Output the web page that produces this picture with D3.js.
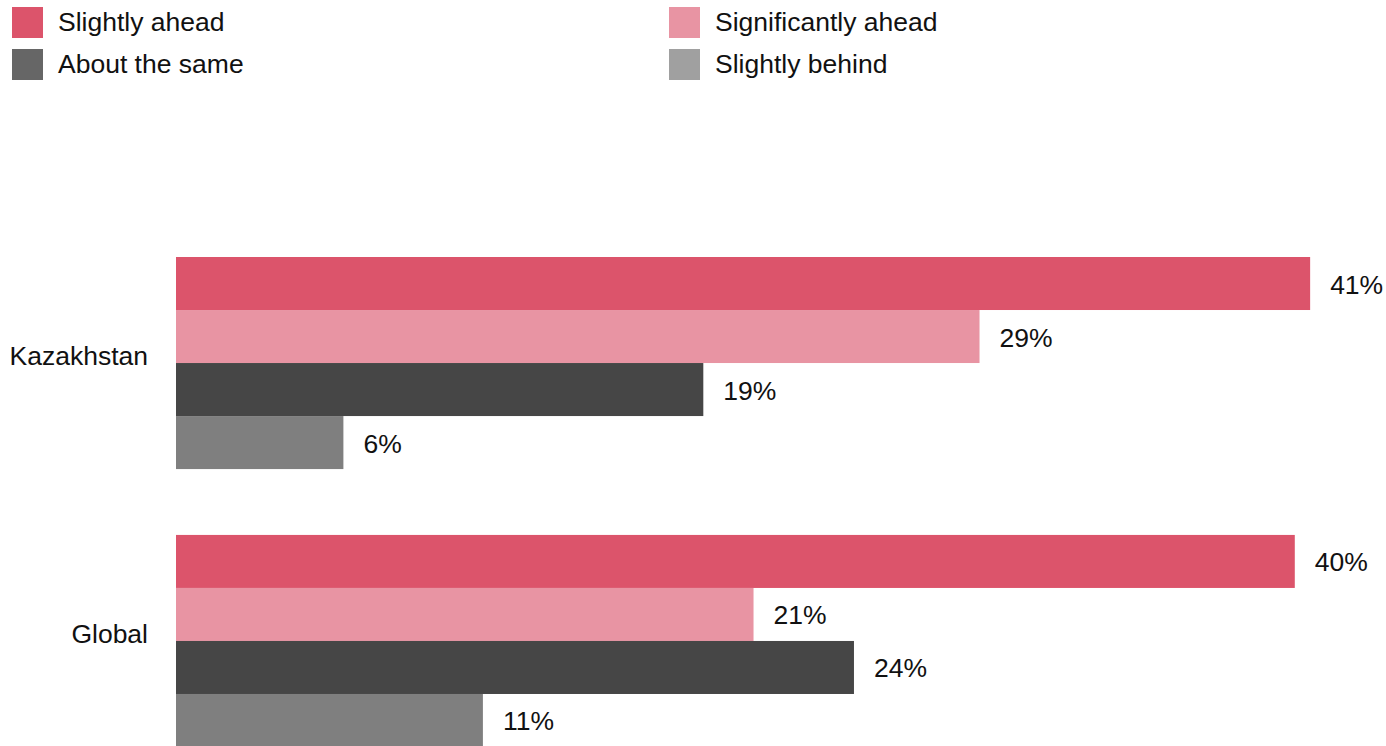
<!DOCTYPE html>
<html>
<head>
<meta charset="utf-8">
<script src="https://cdn.jsdelivr.net/npm/d3@7/dist/d3.min.js"></script>
<style>
  html, body { margin: 0; padding: 0; background: #fff; }
  svg { display: block; font-family: "Liberation Sans", Arial, sans-serif; }
</style>
</head>
<body>
<svg id="chart"></svg>
<script>
// ─── Data ───────────────────────────────────────────────────────────────────
const categories = ["Kazakhstan", "Global"];
const seriesNames = ["Slightly ahead", "Significantly ahead", "About the same", "Slightly behind"];
const kazakhstanValues = [40.65, 28.8, 18.9, 6.0];
const globalValues     = [40.1, 20.7, 24.3, 11.0];
const valueLabels = [["41%", "29%", "19%", "6%"], ["40%", "21%", "24%", "11%"]];

// legend layout order (two columns, two rows)
const legendOrder = ["Slightly ahead", "Significantly ahead", "About the same", "Slightly behind"];

const barColors    = ["#dc546b", "#e894a3", "#464646", "#7f7f7f"];
const legendColors = ["#dc546b", "#e894a3", "#666666", "#a0a0a0"];

const rows = [kazakhstanValues, globalValues];

// ─── SVG setup ──────────────────────────────────────────────────────────────
const W = 1386, H = 746;
const fontSize = "26.5px";
const svg = d3.select("#chart").attr("width", W).attr("height", H);

const x0 = 176;
const x = d3.scaleLinear().domain([0, 45]).range([x0, x0 + 45 * 27.9]);

const y = d3.scaleBand()
  .domain(categories)
  .range([257, 747])
  .paddingInner(0.237)
  .paddingOuter(0);

const ySub = d3.scaleBand()
  .domain(seriesNames)
  .range([0, y.bandwidth()])
  .padding(0);

const colorBar = d3.scaleOrdinal().domain(seriesNames).range(barColors);
const colorLegend = d3.scaleOrdinal().domain(seriesNames).range(legendColors);

// ─── Legend ─────────────────────────────────────────────────────────────────
const legend = svg.append("g").attr("class", "legend");
legendOrder.forEach((name, i) => {
  const col = i % 2, row = Math.floor(i / 2);
  const g = legend.append("g")
    .attr("transform", `translate(${col === 0 ? 12 : 669},${7 + row * 42})`);
  g.append("rect")
    .attr("width", 31)
    .attr("height", 31)
    .attr("fill", colorLegend(name));
  g.append("text")
    .attr("x", 46)
    .attr("y", 24)
    .attr("font-size", fontSize)
    .attr("fill", "#111")
    .text(name);
});

// ─── Bars ───────────────────────────────────────────────────────────────────
categories.forEach((cat, ci) => {
  const g = svg.append("g").attr("transform", `translate(0,${y(cat)})`);

  const data = seriesNames.map((s, si) => ({ series: s, value: rows[ci][si], label: valueLabels[ci][si] }));

  g.selectAll("rect")
    .data(data)
    .join("rect")
      .attr("x", x(0))
      .attr("y", d => ySub(d.series))
      .attr("width", d => x(d.value) - x(0))
      .attr("height", ySub.bandwidth())
      .attr("fill", d => colorBar(d.series));

  g.selectAll("text.value")
    .data(data)
    .join("text")
      .attr("class", "value")
      .attr("x", d => x(d.value) + 20)
      .attr("y", d => ySub(d.series) + ySub.bandwidth() / 2 + 10)
      .attr("font-size", fontSize)
      .attr("fill", "#111")
      .text(d => d.label);

  // category label
  svg.append("text")
    .attr("x", 148)
    .attr("y", y(cat) + y.bandwidth() / 2 + 2)
    .attr("text-anchor", "end")
    .attr("font-size", fontSize)
    .attr("fill", "#111")
    .text(cat);
});
</script>
</body>
</html>
